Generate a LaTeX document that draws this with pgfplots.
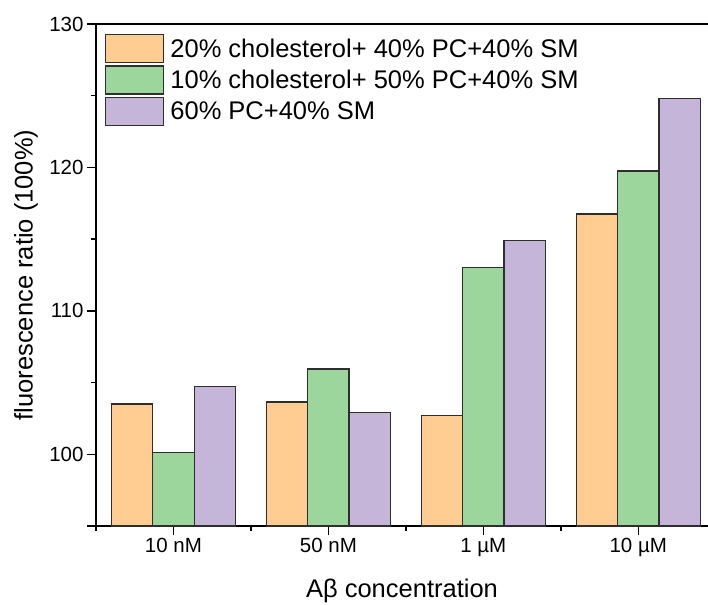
\documentclass[border=0pt]{standalone}
\usepackage{fontspec}
\setmainfont{Liberation Sans}
\usepackage{pgfplots}
\pgfplotsset{compat=1.18}

\definecolor{corange}{HTML}{FFCC91}
\definecolor{cgreen}{HTML}{9DD69C}
\definecolor{cpurple}{HTML}{C5B5D8}
\definecolor{cedge}{HTML}{2E2E2E}

\begin{document}
\begin{tikzpicture}
\begin{axis}[
  scale only axis, width=612pt, height=502pt,
  xmin=-0.5, xmax=3.45, ymin=95, ymax=130,
  axis x line*=bottom, axis y line*=left,
  axis line style={line width=1.4pt, black},
  every tick/.style={line width=1.4pt, black},
  tick align=outside,
  major tick length=9pt, minor tick length=5pt,
  xtick={0,1,2,3},
  xticklabels={10 nM, 50 nM, 1 µM, 10 µM},
  minor xtick={-0.5,0.5,1.5,2.5},
  ytick={95,100,110,120,130},
  yticklabels={,100,110,120,130},
  minor ytick={105,115,125},
  /pgf/number format/assume math mode=true,
  tick label style={font=\fontsize{20.5}{24}\selectfont},
  xlabel={Aβ concentration},
  ylabel={fluorescence ratio (100\%)},
  every axis x label/.style={at={(rel axis cs:0.5,0)}, yshift=-71pt, anchor=base,
    font=\fontsize{25.5}{30}\selectfont},
  every axis y label/.style={at={(rel axis cs:0,0.5)}, xshift=-70pt, rotate=90, anchor=center,
    font=\fontsize{25.5}{30}\selectfont},
  ybar, bar width=0.267,
  legend image code/.code={\draw[#1] (0pt,-14pt) rectangle (58pt,14pt);},
  legend cell align=left,
  legend style={at={(rel axis cs:0,1)}, anchor=north west, xshift=9pt, yshift=-10pt,
    draw=none, fill=none, inner sep=0pt, row sep=2pt,
    nodes={inner sep=2pt},
    /tikz/every odd column/.style={column sep=4pt},
    font=\fontsize{25.5}{30}\selectfont},
]
\addplot[bar shift=-0.267, fill=corange, draw=cedge, line width=1.2pt]
  coordinates {(0,103.5) (1,103.65) (2,102.7) (3,116.75)};
\addplot[bar shift=0, fill=cgreen, draw=cedge, line width=1.2pt]
  coordinates {(0,100.15) (1,105.95) (2,113.0) (3,119.75)};
\addplot[bar shift=0.267, fill=cpurple, draw=cedge, line width=1.2pt]
  coordinates {(0,104.7) (1,102.9) (2,114.9) (3,124.8)};
\legend{20\% cholesterol+ 40\% PC+40\% SM, 10\% cholesterol+ 50\% PC+40\% SM, 60\% PC+40\% SM}
\draw[line width=1.4pt, black] (rel axis cs:0,1) -- (rel axis cs:1,1);
\coordinate (sw) at (rel axis cs:0,0);
\coordinate (ne) at (rel axis cs:1,1);
\end{axis}
\pgfresetboundingbox
\path[use as bounding box] ([shift={(-96pt,-78pt)}]sw) rectangle ([shift={(0pt,24pt)}]ne);
\end{tikzpicture}
\end{document}
